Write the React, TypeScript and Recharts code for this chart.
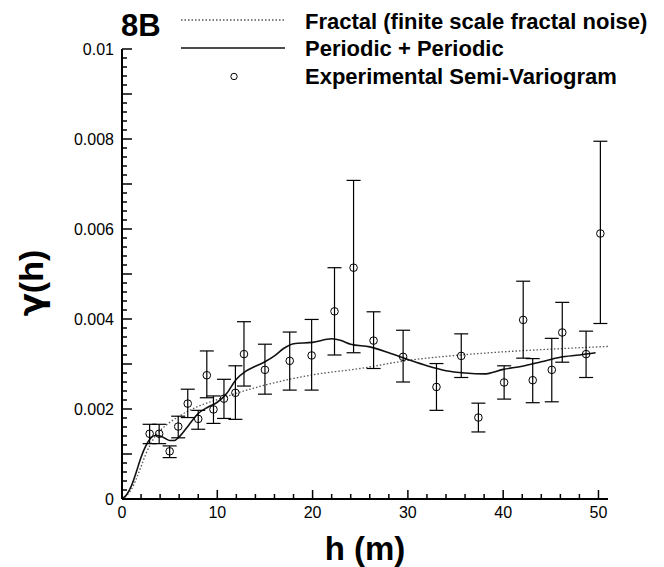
import React from 'react';
import {
  ComposedChart,
  XAxis,
  YAxis,
  Line,
  Scatter,
  ErrorBar,
} from 'recharts';

// Experimental semi-variogram points (h in m, gamma, error bar limits)
const pointH = [2.9, 3.9, 5.0, 5.9, 6.9, 8.0, 8.9, 9.6, 10.7, 11.9, 12.8, 15.0, 17.6, 19.9, 22.3, 24.3, 26.4, 29.5, 33.0, 35.6, 37.4, 40.1, 42.1, 43.1, 45.1, 46.2, 48.7, 50.2];
const pointGamma = [0.00145, 0.00145, 0.00106, 0.00161, 0.00212, 0.00178, 0.00275, 0.00199, 0.00223, 0.00236, 0.00322, 0.00287, 0.00307, 0.00319, 0.00417, 0.00514, 0.00352, 0.00316, 0.00249, 0.00318, 0.00181, 0.00259, 0.00398, 0.00264, 0.00287, 0.0037, 0.00322, 0.0059];
const pointUpper = [0.00166, 0.00166, 0.00118, 0.00184, 0.00244, 0.00197, 0.00329, 0.00229, 0.00266, 0.00296, 0.00394, 0.00344, 0.00371, 0.00399, 0.00514, 0.00708, 0.00416, 0.00375, 0.00301, 0.00367, 0.00213, 0.00296, 0.00484, 0.00312, 0.00357, 0.00437, 0.00373, 0.00795];
const pointLower = [0.00123, 0.00123, 0.00092, 0.00136, 0.00181, 0.00155, 0.00225, 0.00168, 0.00179, 0.00177, 0.00251, 0.00233, 0.00242, 0.00242, 0.0032, 0.00325, 0.0029, 0.0026, 0.00197, 0.0027, 0.00149, 0.00222, 0.00313, 0.00214, 0.00216, 0.00304, 0.0027, 0.0039];

// Fractal (finite scale fractal noise) model curve
const fractalH = [0, 0.5, 1, 1.5, 2, 2.5, 3, 3.5, 4, 5, 6, 7, 8, 10, 12, 15, 20, 25, 30, 35, 40, 45, 51];
const fractalGamma = [0, 0.00008, 0.00022, 0.00045, 0.00072, 0.001, 0.00122, 0.0014, 0.00152, 0.0017, 0.00184, 0.00196, 0.00206, 0.00221, 0.00235, 0.00253, 0.00276, 0.0029, 0.00308, 0.00319, 0.00327, 0.00333, 0.00339];

// Periodic + Periodic model curve
const periodicH = [0, 0.5, 1, 1.5, 2, 2.5, 3, 3.5, 4, 4.5, 5, 5.5, 6, 7, 8, 9, 10, 11, 12, 13, 14, 15, 16, 17, 18, 20, 22, 23, 24, 26, 28, 30, 32, 34, 36, 38, 40, 42, 44, 46, 48, 49.7];
const periodicGamma = [0, 0.0001, 0.0003, 0.0006, 0.00093, 0.00118, 0.00135, 0.00141, 0.0014, 0.00135, 0.0013, 0.0013, 0.00138, 0.00164, 0.0019, 0.00204, 0.00215, 0.00235, 0.00266, 0.00284, 0.00295, 0.00305, 0.00318, 0.00335, 0.00345, 0.00348, 0.00356, 0.00352, 0.00344, 0.00338, 0.00325, 0.0031, 0.00296, 0.00285, 0.0028, 0.00278, 0.00288, 0.00295, 0.00305, 0.00315, 0.0032, 0.00325];

const xMajorTicks = [0, 10, 20, 30, 40, 50];
const xTickLabels = ['0', '10', '20', '30', '40', '50'];
const yMajorTicks = [0, 0.002, 0.004, 0.006, 0.008, 0.01];
const yTickLabels = ['0', '0.002', '0.004', '0.006', '0.008', '0.01'];

const legendLabels = [
  'Fractal (finite scale fractal noise)',
  'Periodic + Periodic',
  'Experimental Semi-Variogram',
];

const points = pointH.map((h, i) => ({
  x: h,
  y: pointGamma[i],
  err: [pointGamma[i] - pointLower[i], pointUpper[i] - pointGamma[i]],
}));
const fractalData = fractalH.map((h, i) => ({ x: h, y: fractalGamma[i] }));
const periodicData = periodicH.map((h, i) => ({ x: h, y: periodicGamma[i] }));

const FONT = 'Liberation Sans, Arial, Helvetica, sans-serif';

// chart geometry, shared by the chart and the inward axis tick marks
const W = 664;
const H = 567;
const MARGIN = { top: 49, right: 56, bottom: 38, left: 0 };
const Y_AXIS_W = 122;
const X_AXIS_H = 30;
const X_DOMAIN: [number, number] = [0, 51];
const Y_DOMAIN: [number, number] = [0, 0.01];
const PLOT_L = MARGIN.left + Y_AXIS_W;
const PLOT_R = W - MARGIN.right;
const PLOT_T = MARGIN.top;
const PLOT_B = H - MARGIN.bottom - X_AXIS_H;
const sx = (v: number) => PLOT_L + ((v - X_DOMAIN[0]) / (X_DOMAIN[1] - X_DOMAIN[0])) * (PLOT_R - PLOT_L);
const sy = (v: number) => PLOT_B - ((v - Y_DOMAIN[0]) / (Y_DOMAIN[1] - Y_DOMAIN[0])) * (PLOT_B - PLOT_T);

// inward tick marks: every 2 m on x, every 0.0002 on y
const xTickSteps = Array.from({ length: 25 }, (_, i) => (i + 1) * 2);
const yTickSteps = Array.from({ length: 50 }, (_, i) => i + 1);

const YTick = (props: any) => {
  const { x, y, payload } = props;
  const mi = yMajorTicks.findIndex((m) => Math.abs(m - payload.value) < 1e-9);
  if (mi < 0) return null;
  return (
    <text x={x} y={y} dy="0.36em" textAnchor="end" fontSize={16} fontFamily={FONT} fill="#000">
      {yTickLabels[mi]}
    </text>
  );
};

const XTick = (props: any) => {
  const { x, y, payload } = props;
  const mi = xMajorTicks.indexOf(payload.value);
  if (mi < 0) return null;
  return (
    <text x={x} y={y} dy="0.71em" textAnchor="middle" fontSize={16} fontFamily={FONT} fill="#000">
      {xTickLabels[mi]}
    </text>
  );
};

const OpenCircle = (props: any) => {
  const { cx, cy } = props;
  return <circle cx={cx} cy={cy} r={3.8} fill="none" stroke="#000" strokeWidth={1} />;
};

export default function App() {
  return (
    <div style={{ position: 'absolute', left: 0, top: 0, width: W, height: H, background: '#fff' }}>
      <ComposedChart width={W} height={H} margin={MARGIN}>
        <XAxis
          type="number"
          dataKey="x"
          domain={X_DOMAIN}
          ticks={xMajorTicks}
          interval={0}
          tick={<XTick />}
          tickLine={false}
          tickSize={0}
          tickMargin={8}
          axisLine={{ stroke: '#000', strokeWidth: 2 }}
          height={X_AXIS_H}
        />
        <YAxis
          type="number"
          dataKey="y"
          domain={Y_DOMAIN}
          ticks={yMajorTicks}
          interval={0}
          tick={<YTick />}
          tickLine={false}
          tickSize={0}
          tickMargin={8}
          axisLine={{ stroke: '#000', strokeWidth: 2 }}
          width={Y_AXIS_W}
        />
        <Line
          data={fractalData}
          dataKey="y"
          type="monotone"
          stroke="#555"
          strokeWidth={1.3}
          strokeDasharray="1.5 2"
          dot={false}
          isAnimationActive={false}
        />
        <Line
          data={periodicData}
          dataKey="y"
          type="monotone"
          stroke="#111"
          strokeWidth={1.6}
          dot={false}
          isAnimationActive={false}
        />
        <Scatter data={points} dataKey="y" shape={<OpenCircle />} isAnimationActive={false}>
          <ErrorBar dataKey="err" direction="y" width={7} stroke="#000" strokeWidth={1.2} isAnimationActive={false} />
        </Scatter>
      </ComposedChart>

      <svg width={W} height={H} style={{ position: 'absolute', left: 0, top: 0, pointerEvents: 'none' }}>
        {/* inward axis ticks */}
        {yTickSteps.map((k) => {
          const y = sy(k * 0.0002);
          return (
            <line key={'yt' + k} x1={PLOT_L} y1={y} x2={PLOT_L + (k % 5 === 0 ? 10 : 5)} y2={y} stroke="#000" strokeWidth={1.5} />
          );
        })}
        {xTickSteps.map((h) => {
          const x = sx(h);
          return (
            <line key={'xt' + h} x1={x} y1={PLOT_B} x2={x} y2={PLOT_B - (h % 10 === 0 ? 9 : 5)} stroke="#000" strokeWidth={1.5} />
          );
        })}

        <text x={121} y={36} fontSize={31} fontWeight="bold" fontFamily={FONT} fill="#000">
          8B
        </text>
        <line x1={181} y1={20} x2={285} y2={20} stroke="#555" strokeWidth={1.3} strokeDasharray="1.5 2" />
        <line x1={181} y1={48} x2={285} y2={48} stroke="#111" strokeWidth={1.6} />
        <circle cx={234} cy={76.5} r={3.2} fill="none" stroke="#000" strokeWidth={1} />
        {legendLabels.map((t, i) => (
          <text key={t} x={305} y={28.5 + i * 27.5} fontSize={22} fontWeight="bold" fontFamily={FONT} fill="#000">
            {t}
          </text>
        ))}
        <text
          x={43}
          y={283}
          transform="rotate(-90, 43, 283)"
          textAnchor="middle"
          fontSize={34}
          fontWeight="bold"
          fontFamily={FONT}
          fill="#000"
        >
          <tspan fontFamily="DejaVu Sans, sans-serif">γ</tspan>(h)
        </text>
        <text x={365} y={560} textAnchor="middle" fontSize={33} fontWeight="bold" fontFamily={FONT} fill="#000">
          h (m)
        </text>
      </svg>
    </div>
  );
}
